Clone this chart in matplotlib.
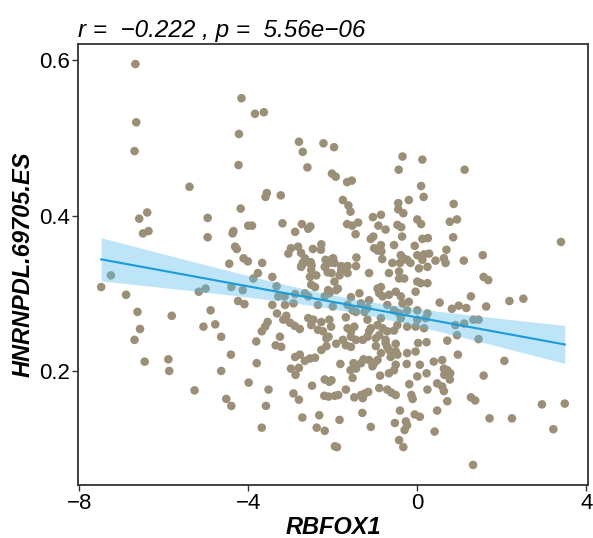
import numpy as np
import matplotlib
matplotlib.use("Agg")
import matplotlib.pyplot as plt

x_label = "RBFOX1"
y_label = "HNRNPDL.69705.ES"
title_text = "r =  \u22120.222 , p =  5.56e\u221206"
x_ticks = [-8, -4, 0, 4]
x_tick_labels = ["\u22128", "\u22124", "0", "4"]
y_ticks = [0.2, 0.4, 0.6]
y_tick_labels = ["0.2", "0.4", "0.6"]

rbfox1 = [
 -6.67,-6.65,-6.69,-4.16,-3.84,-3.63,-4.22,-4.23,-2.80,-2.71,-2.22,-1.97,-2.60,-2.02,-5.39,-3.56,-3.59,-3.23,-4.18,-6.58,
 -6.39,-6.49,-6.36,-4.96,-4.96,-4.35,-4.37,-4.00,-3.91,-3.19,-2.89,-2.73,-2.53,-2.58,-4.31,-4.27,-4.11,-4.01,-4.45,-3.67,
 -3.05,-2.99,-2.82,-2.47,-2.27,-2.75,-2.66,-2.59,-2.71,-2.52,-2.75,-2.17,-1.99,
 -0.35,0.12,-0.44,1.12,-1.93,-1.66,-1.55,0.09,0.15,-1.76,-1.63,-1.58,-0.45,-0.45,-0.33,-0.20,0.86,-1.05,-0.86,0.00,
 0.09,0.77,0.94,-1.66,-1.54,-1.40,-0.92,-0.47,-0.38,-1.46,-1.10,-1.04,-0.36,0.12,0.25,0.85,3.40,-0.55,-0.06,-1.02,
 -0.86,-0.85,-0.94,0.69,1.55,-1.44,-0.83,-0.39,-0.33,-0.24,-0.41,-0.16,0.00,0.16,0.28,0.12,0.43,0.63,0.67,1.10,
 -2.02,-1.96,-1.80,-1.65,-1.45,-0.59,
 1.57,1.68,2.18,2.51,1.27,1.63,0.53,0.82,0.98,1.16,1.33,1.45,1.11,1.45,0.90,0.94,0.71,0.96,2.06,1.57,
 1.27,1.37,2.95,3.49,1.71,2.24,3.22,1.32,0.71,0.47,0.41,-0.06,0.06,-0.41,-0.27,-0.24,-0.53,-0.30,-0.43,-0.33,
 -1.10,-1.30,-1.84,-1.90,0.24,0.47,0.59,0.63,-0.19,-0.14,-0.11,0.06,0.00,0.22,0.39,0.59,0.63,0.71,0.78,0.64,
 0.77,-0.25,-0.51,-0.55,-0.67,-0.88,-0.90,-0.71,-0.61,-0.51,-1.33,-1.24,-1.16,-1.49,-1.29,-1.69,-1.87,-2.08,-2.10,-1.53,
 -1.58,-1.45,-1.51,-1.82,-1.14,-1.27,-1.33,-1.02,-0.94,-1.06,-0.86,-0.67,-0.51,-0.47,-0.63,-0.24,-0.04,-0.98,-0.75,-0.71,
 -1.29,-1.18,-1.14,-0.98,-0.90,-0.75,-0.51,-1.57,-1.45,-1.57,-1.76,-1.69,-1.92,-1.65,-1.57,-1.49,-2.10,0.02,0.22,-0.24,
 -0.04,0.16,-1.18,-0.94,-0.82,-0.71,-0.55,-2.08,-1.53,-1.25,-1.18,-1.57,-1.37,-1.14,-0.86,-0.90,-0.67,-0.39,-0.35,-0.20,
 -0.71,-0.55,-0.43,-0.24,0.00,0.24,0.00,0.20,-0.04,-0.67,-0.43,-0.31,0.00,0.08,0.24,0.04,0.24,-1.14,-1.80,-1.96,
 -1.92,-1.84,-2.08,-2.04,
 -7.25,-7.48,-6.89,-6.62,-6.56,-6.69,-6.45,-5.81,-5.89,-5.87,-5.27,-5.17,-5.01,-4.89,-5.06,-4.78,-4.64,-4.41,-4.64,-4.52,
 -4.40,-3.77,-3.43,-4.40,-4.13,-4.24,-4.09,-3.88,-3.81,-3.80,-3.99,-3.52,-3.58,-3.68,-3.33,-3.29,-3.43,-3.13,-2.93,-2.89,
 -2.66,-2.58,-3.32,-3.17,-3.01,-3.54,-3.60,-3.68,-3.25,-3.35,-3.22,-2.78,-2.89,-2.78,-2.99,-2.88,-2.80,-2.66,-2.54,-2.42,
 -2.27,-2.58,-2.46,-2.27,-2.35,-2.23,-2.15,-2.15,-2.35,-2.19,-2.11,-2.42,-2.54,-2.50,-2.19,-2.03,-2.74,-2.93,-2.80,-2.49,
 -2.19,-2.03,-2.20,-2.72,-2.32,-2.38,-2.19,-1.95,-1.95,
 -0.75,-2.28,-2.08,-1.76,-1.65,-2.51,-2.39,-2.12,-0.43,-2.51,-1.88,-0.94,-1.33,-0.82,-0.51,-3.14,-2.00,-1.65,-1.45,-3.10,
 -2.90,-2.51,-1.69,-1.10,-0.86,-0.47,-0.39,
]
hnrnpdl = [
 0.595,0.520,0.483,0.551,0.531,0.533,0.505,0.465,0.495,0.482,0.493,0.488,0.462,0.454,0.437,0.429,0.424,0.426,0.409,0.396,
 0.404,0.377,0.380,0.397,0.372,0.380,0.377,0.387,0.387,0.390,0.379,0.389,0.386,0.383,0.360,0.357,0.345,0.341,0.338,0.339,
 0.351,0.358,0.360,0.357,0.363,0.352,0.345,0.340,0.339,0.340,0.334,0.343,0.345,
 0.476,0.472,0.459,0.459,0.450,0.443,0.445,0.438,0.424,0.420,0.413,0.405,0.416,0.408,0.403,0.420,0.415,0.398,0.401,0.395,
 0.389,0.392,0.395,0.389,0.387,0.391,0.387,0.388,0.385,0.376,0.370,0.373,0.373,0.370,0.371,0.372,0.366,0.362,0.361,0.358,
 0.362,0.354,0.355,0.356,0.349,0.346,0.344,0.349,0.345,0.343,0.339,0.339,0.349,0.350,0.351,0.343,0.342,0.345,0.339,0.342,
 0.344,0.339,0.335,0.335,0.335,0.339,
 0.321,0.317,0.290,0.293,0.296,0.283,0.288,0.280,0.284,0.281,0.266,0.266,0.261,0.241,0.259,0.246,0.239,0.221,0.213,0.194,
 0.166,0.162,0.157,0.158,0.139,0.139,0.125,0.079,0.161,0.149,0.122,0.144,0.141,0.149,0.135,0.130,0.133,0.124,0.111,0.102,
 0.128,0.146,0.137,0.102,0.176,0.184,0.180,0.174,0.183,0.169,0.164,0.208,0.193,0.197,0.212,0.214,0.203,0.201,0.197,0.195,
 0.189,0.209,0.208,0.201,0.197,0.194,0.178,0.176,0.172,0.169,0.169,0.171,0.173,0.166,0.165,0.176,0.169,0.186,0.167,0.191,
 0.201,0.203,0.210,0.209,0.214,0.215,0.210,0.210,0.214,0.206,0.223,0.227,0.225,0.221,0.218,0.223,0.225,0.232,0.236,0.231,
 0.240,0.244,0.251,0.242,0.246,0.240,0.235,0.244,0.240,0.231,0.240,0.233,0.235,0.255,0.251,0.257,0.244,0.236,0.237,0.257,
 0.257,0.255,0.266,0.259,0.255,0.251,0.252,0.266,0.278,0.276,0.281,0.295,0.300,0.291,0.308,0.300,0.298,0.296,0.287,0.289,
 0.285,0.278,0.274,0.278,0.278,0.274,0.266,0.268,0.302,0.326,0.319,0.319,0.315,0.313,0.313,0.332,0.334,0.326,0.330,0.315,
 0.304,0.323,0.300,0.257,
 0.323,0.308,0.298,0.276,0.254,0.240,0.212,0.271,0.215,0.200,0.175,0.302,0.306,0.278,0.257,0.260,0.244,0.221,0.200,0.164,
 0.155,0.326,0.321,0.308,0.304,0.290,0.286,0.319,0.238,0.210,0.185,0.176,0.155,0.127,0.309,0.296,0.285,0.285,0.287,0.299,
 0.300,0.296,0.274,0.266,0.262,0.263,0.257,0.251,0.244,0.233,0.231,0.254,0.218,0.221,0.203,0.195,0.204,0.213,0.216,0.217,
 0.227,0.268,0.266,0.263,0.253,0.251,0.242,0.232,0.285,0.296,0.304,0.308,0.321,0.336,0.334,0.326,0.335,0.171,0.163,0.181,
 0.189,0.188,0.168,0.140,0.143,0.127,0.123,0.103,0.168,
 0.382,0.356,0.339,0.330,0.326,0.330,0.323,0.327,0.328,0.311,0.306,0.306,0.287,0.296,0.302,0.296,0.283,0.285,0.276,0.271,
 0.258,0.259,0.269,0.255,0.268,0.259,0.268,
]

x = np.array(rbfox1)
y = np.array(hnrnpdl)

# linear fit with 95% confidence band
n = len(x)
b1, b0 = np.polyfit(x, y, 1)
resid = y - (b0 + b1 * x)
s = np.sqrt(np.sum(resid ** 2) / (n - 2))
xg = np.linspace(x.min(), x.max(), 100)
yg = b0 + b1 * xg
se = s * np.sqrt(1.0 / n + (xg - x.mean()) ** 2 / np.sum((x - x.mean()) ** 2))
tval = 1.966

plt.rcParams['font.family'] = ['Liberation Sans', 'DejaVu Sans']
fig = plt.figure(figsize=(5.93, 5.38), dpi=100)
ax = fig.add_axes([0.1315, 0.0985, 0.8600, 0.8197])

ax.scatter(x, y, s=38, color="#9B8F78", edgecolors="none", zorder=2)
ax.fill_between(xg, yg - tval * se, yg + tval * se, color="#5BC0EB", alpha=0.4,
                linewidth=0, zorder=3)
ax.plot(xg, yg, color="#1A9CDA", lw=1.5, zorder=4)

ax.margins(0.05)
ax.set_xticks(x_ticks)
ax.set_xticklabels(x_tick_labels)
ax.set_yticks(y_ticks)
ax.set_yticklabels(y_tick_labels)
ax.tick_params(axis='both', direction='out', length=4, width=1, color="#333333",
               labelsize=16, labelcolor="black", pad=2)
for sp in ax.spines.values():
    sp.set_color("#333333")
    sp.set_linewidth(1.3)

ax.set_xlabel(x_label, fontsize=17, fontweight='bold', fontstyle='italic', labelpad=1)
ax.set_ylabel(y_label, fontsize=17, fontweight='bold', fontstyle='italic', labelpad=3)
ax.set_title(title_text, fontsize=17.5, fontstyle='italic', loc='left', pad=5)

fig.savefig("out.png", dpi=100)
